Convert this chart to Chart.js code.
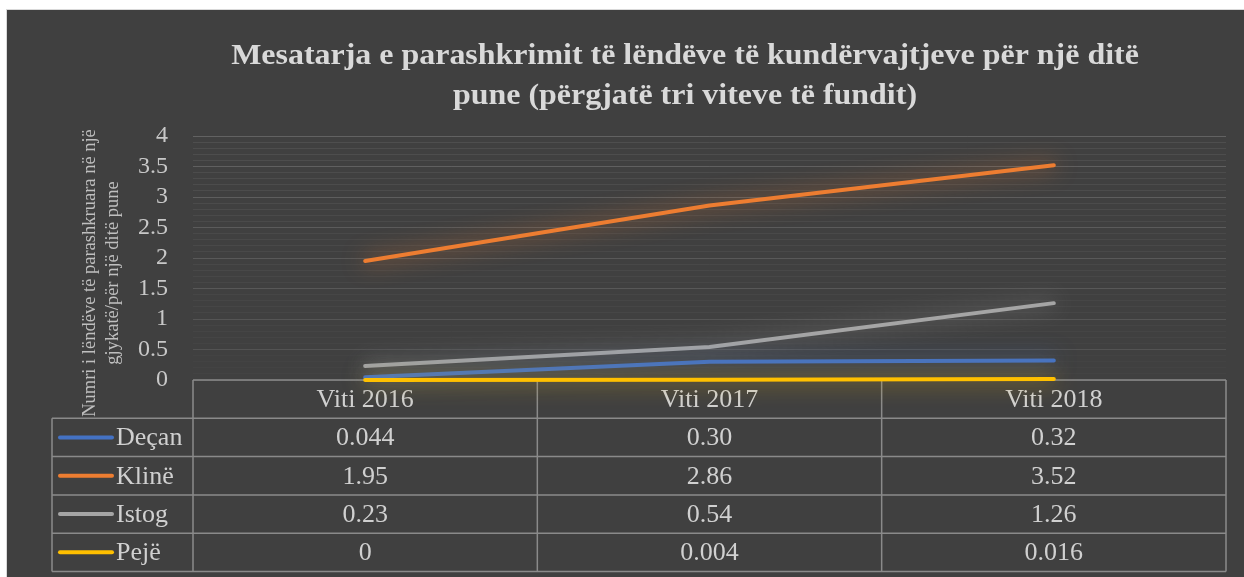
<!DOCTYPE html>
<html><head><meta charset="utf-8">
<script src="https://cdn.jsdelivr.net/npm/chart.js@4.4.1/dist/chart.umd.min.js"></script>
<style>html,body{margin:0;padding:0;background:#fff}#wrap{width:1244px;height:577px}</style>
</head><body><div id="wrap"><canvas id="c" width="1244" height="577"></canvas></div>
<script>
const categories = ['Viti 2016', 'Viti 2017', 'Viti 2018'];
const seriesNames = ['Deçan', 'Klinë', 'Istog', 'Pejë'];
const seriesColors = ['#4472C4', '#ED7D31', '#A5A5A5', '#FFC000'];
const decan = [0.044, 0.30, 0.32];
const kline = [1.95, 2.86, 3.52];
const istog = [0.23, 0.54, 1.26];
const peje = [0, 0.004, 0.016];
const decanLabels = ['0.044', '0.30', '0.32'];
const klineLabels = ['1.95', '2.86', '3.52'];
const istogLabels = ['0.23', '0.54', '1.26'];
const pejeLabels = ['0', '0.004', '0.016'];
const titleLines = ['Mesatarja e parashkrimit të lëndëve të kundërvajtjeve për një ditë', 'pune (përgjatë tri viteve të fundit)'];
const yTitleLines = ['Numri i lëndëve të parashkruara në një', 'gjykatë/për një ditë pune'];
const yMin = 0, yMax = 4, yMajorStep = 0.5, yMinorStep = 0.1;

const seriesValues = [decan, kline, istog, peje];
const seriesLabels = [decanLabels, klineLabels, istogLabels, pejeLabels];
const SERIF = '"Liberation Serif", "Times New Roman", serif';
const TEXT = '#d0d0d0';

const bgPlugin = {
  id: 'bg',
  beforeDraw(chart) {
    const ctx = chart.ctx;
    ctx.save();
    ctx.fillStyle = '#ffffff';
    ctx.fillRect(0, 0, chart.width, chart.height);
    ctx.fillStyle = '#d9d9d9';
    ctx.fillRect(6, 9, chart.width - 6, chart.height - 9);
    ctx.fillStyle = '#404040';
    ctx.fillRect(7, 10, chart.width - 7, chart.height - 10);
    ctx.restore();
  }
};

const glowPlugin = {
  id: 'glow',
  beforeDatasetDraw(chart, args) {
    const ctx = chart.ctx;
    ctx.save();
    const c = seriesColors[args.index];
    ctx.shadowColor = c + 'CC';
    ctx.shadowBlur = 22;
  },
  afterDatasetDraw(chart) {
    chart.ctx.restore();
  }
};

const tablePlugin = {
  id: 'table',
  beforeDatasetsDraw(chart) {
    const ctx = chart.ctx;
    const ca = chart.chartArea;
    const xs = chart.scales.x;
    ctx.save();
    const top = ca.bottom;
    const rowH = 38.3;
    const n = categories.length;
    const colW = (ca.right - ca.left) / n;
    const legendLeft = 52;
    const rows = seriesNames.length;
    ctx.strokeStyle = '#8a8a8a';
    ctx.lineWidth = 1.5;
    ctx.beginPath();
    ctx.moveTo(ca.left, top); ctx.lineTo(ca.right, top);
    for (let r = 1; r <= rows + 1; r++) {
      const y = top + r * rowH;
      ctx.moveTo(legendLeft, y); ctx.lineTo(ca.right, y);
    }
    ctx.moveTo(legendLeft, top + rowH); ctx.lineTo(legendLeft, top + (rows + 1) * rowH);
    for (let j = 0; j <= n; j++) {
      const x = ca.left + j * colW;
      ctx.moveTo(x, top); ctx.lineTo(x, top + (rows + 1) * rowH);
    }
    ctx.stroke();

    ctx.fillStyle = TEXT;
    ctx.font = '26px ' + SERIF;
    ctx.textAlign = 'center';
    ctx.textBaseline = 'middle';
    for (let i = 0; i < n; i++) {
      const cx = xs.getPixelForValue(i);
      ctx.fillText(categories[i], cx, top + rowH / 2 + 1);
      for (let r = 0; r < rows; r++) {
        ctx.fillText(seriesLabels[r][i], cx, top + (r + 1.5) * rowH + 1);
      }
    }
    for (let r = 0; r < rows; r++) {
      const cy = top + (r + 1.5) * rowH;
      ctx.strokeStyle = seriesColors[r];
      ctx.lineWidth = 4;
      ctx.lineCap = 'round';
      ctx.beginPath();
      ctx.moveTo(60, cy); ctx.lineTo(112, cy);
      ctx.stroke();
      ctx.fillStyle = TEXT;
      ctx.textAlign = 'left';
      ctx.fillText(seriesNames[r], 116, cy + 1);
    }
    ctx.restore();
  }
};

const textPlugin = {
  id: 'texts',
  afterDraw(chart) {
    const ctx = chart.ctx;
    ctx.save();
    ctx.fillStyle = '#d9d9d9';
    ctx.font = 'bold 30px ' + SERIF;
    ctx.textAlign = 'center';
    ctx.textBaseline = 'alphabetic';
    ctx.save();
    ctx.translate(685, 0);
    ctx.scale(1.065, 1);
    ctx.fillText(titleLines[0], 0, 64);
    ctx.fillText(titleLines[1], 0, 104);
    ctx.restore();
    const yt = [[90, yTitleLines[0]], [113, yTitleLines[1]]];
    yt.forEach(([x, t]) => {
      ctx.save();
      ctx.fillStyle = '#bfbfbf';
      ctx.font = '18.5px ' + SERIF;
      ctx.textBaseline = 'middle';
      ctx.textAlign = 'center';
      ctx.translate(x, 273);
      ctx.rotate(-Math.PI / 2);
      ctx.fillText(t, 0, 0);
      ctx.restore();
    });
    ctx.restore();
  }
};

const isMajor = v => Math.abs(v / yMajorStep - Math.round(v / yMajorStep)) < 1e-6;

new Chart(document.getElementById('c'), {
  type: 'line',
  data: {
    labels: categories,
    datasets: seriesNames.map((name, i) => ({
      label: name,
      data: seriesValues[i],
      borderColor: seriesColors[i],
      backgroundColor: seriesColors[i],
      borderWidth: 4,
      borderCapStyle: 'round',
      borderJoinStyle: 'round',
      pointRadius: 0,
      tension: 0,
      clip: false,
      order: i === 3 ? -1 : i
    }))
  },
  options: {
    responsive: false,
    animation: false,
    events: [],
    layout: { padding: { left: 7, top: 136, right: 18, bottom: 197 } },
    plugins: { legend: { display: false }, title: { display: false }, tooltip: { enabled: false } },
    scales: {
      x: { type: 'category', offset: true, display: false },
      y: {
        min: yMin, max: yMax,
        afterFit(s) { s.width = 186; },
        border: { display: false },
        grid: {
          drawTicks: false,
          lineWidth: 1,
          color: ctx => {
            const v = ctx.tick.value;
            return isMajor(v) ? `rgba(255,255,255,${0.09 + 0.09 * v / yMax})` : `rgba(255,255,255,${0.015 + 0.06 * v / yMax})`;
          }
        },
        ticks: {
          stepSize: yMinorStep,
          autoSkip: false,
          padding: 25,
          color: '#c8c8c8',
          font: { family: SERIF, size: 24 },
          callback: v => isMajor(v) ? String(Math.round(v * 10) / 10) : ''
        }
      }
    }
  },
  plugins: [bgPlugin, tablePlugin, glowPlugin, textPlugin]
});
</script>
</body></html>
